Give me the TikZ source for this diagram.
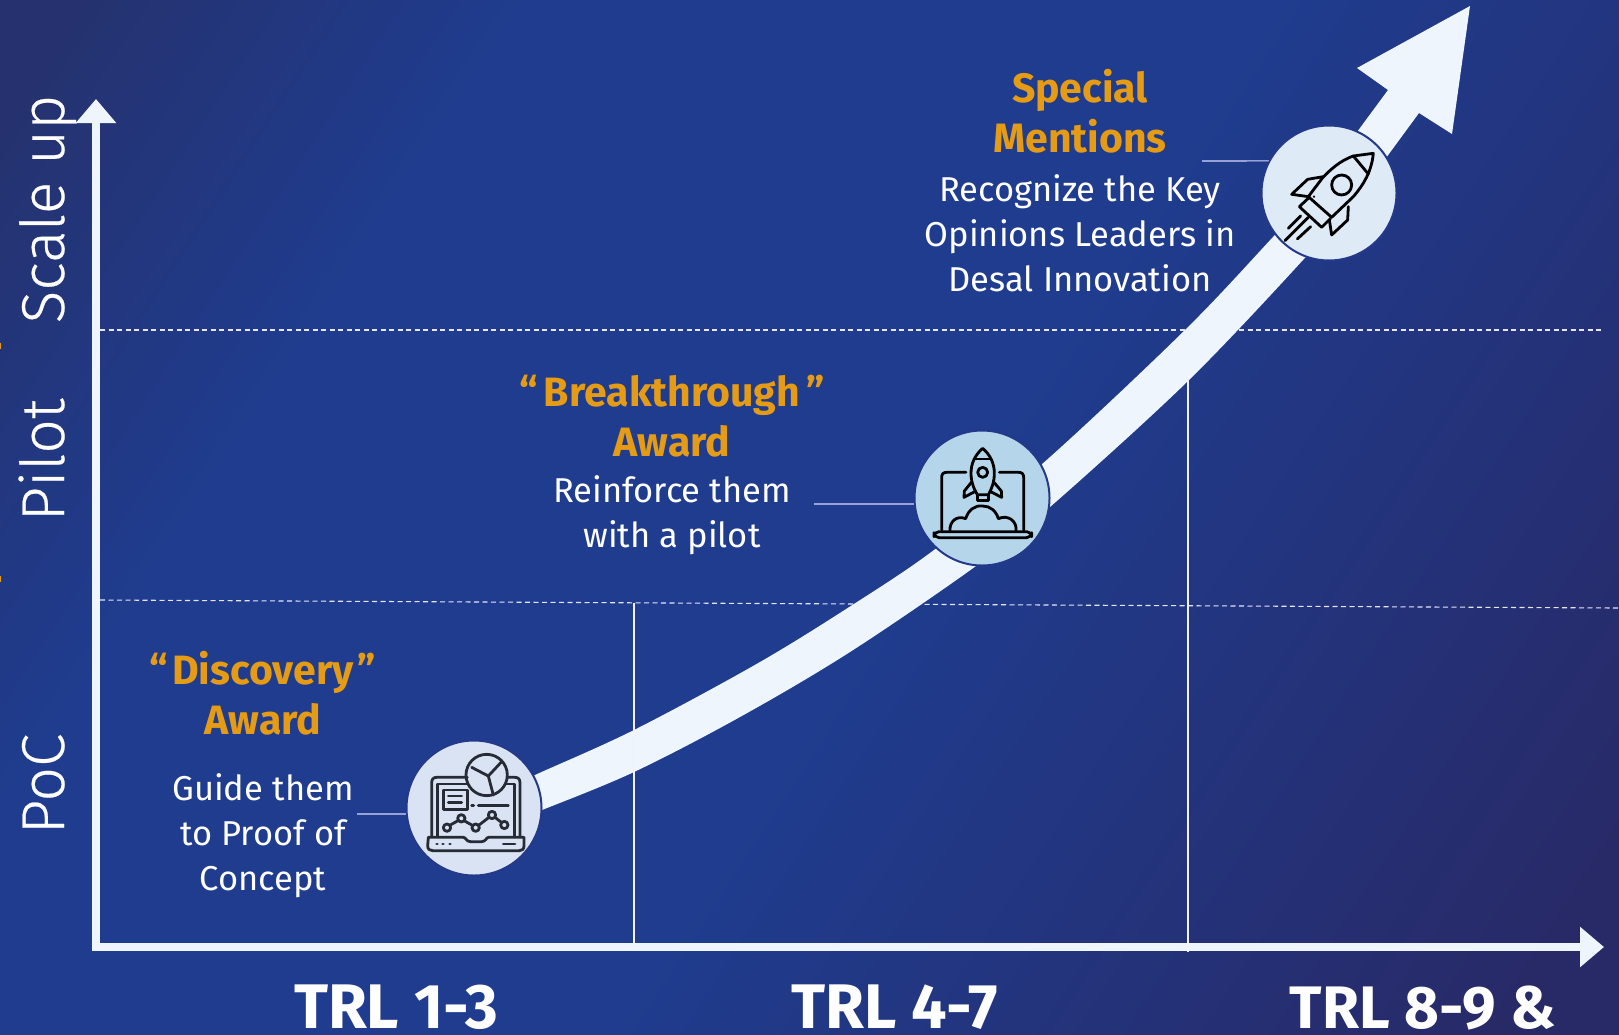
\documentclass[tikz,border=0pt]{standalone}
\usepackage{fontspec}
\setmainfont{Fira Sans}
\newfontfamily\lightface[FakeBold=0.35]{Fira Sans Light}
\usetikzlibrary{arrows.meta}
\definecolor{ink}{HTML}{262B36}
\definecolor{gold}{HTML}{E59C14}
\definecolor{paper}{HTML}{EEF5FC}
\definecolor{bgdark}{HTML}{25326F}
\definecolor{bgblue}{HTML}{1F3C8E}
\definecolor{bgend}{HTML}{282A68}
\definecolor{ringc}{HTML}{24398A}
\definecolor{discA}{HTML}{D9E3F3}
\definecolor{discB}{HTML}{B5D6EA}
\definecolor{discC}{HTML}{DEEAF6}
\pgfdeclareverticalshading{bgshade}{100bp}{color(0bp)=(bgend); color(27bp)=(bgend); color(47bp)=(bgblue); color(64bp)=(bgblue); color(74bp)=(bgdark); color(100bp)=(bgdark)}
\tikzset{
  axisline/.style={draw=paper,line width=8pt,-{Triangle[width=39pt,length=24pt]}},
  dashline/.style={draw=white!90!blue,line width=1.1pt,dash pattern=on 5pt off 3.5pt},
  gridline/.style={draw=white!95!blue,line width=1.1pt},
  leader/.style={draw=white!85!blue,line width=1.2pt},
  disc/.style={circle,draw=ringc,line width=2pt,minimum size=135pt,inner sep=0pt},
  titletext/.style={align=center,text=gold,font=\fontsize{41}{50.5}\selectfont\bfseries},
  bodytext/.style={align=center,text=white,font=\fontsize{34.5}{45}\selectfont},
  sidetext/.style={text=white,rotate=90,anchor=base,font=\fontsize{60.5}{62}\selectfont\lightface},
  trltext/.style={text=white,anchor=base,font=\fontsize{63}{65}\selectfont\bfseries},
  iconline/.style={line width=2.8pt,line cap=round,line join=round},
}
\begin{document}
\begin{tikzpicture}[x=1pt,y=-1pt]
\useasboundingbox (0,0) rectangle (1619,1034);
\begin{scope}
\clip (0,0) rectangle (1619,1034);
\shade[shading=bgshade,shading angle=57] (-200,-300) rectangle (1819,1334);
\end{scope}
% tiny marks at the left edge
\fill[gold] (0,343) rectangle (1,349);
\fill[gold] (0,576) rectangle (1,582);
% grid
\coordinate (d1a) at (100,330); \coordinate (d1b) at (1604,330);
\coordinate (d2a) at (100,600); \coordinate (d2b) at (1619,608);
\coordinate (v1a) at (634,603); \coordinate (v1b) at (634,947);
\coordinate (v2a) at (1188,380); \coordinate (v2b) at (1188,952);
\draw[dashline] (d1a) -- (d1b);
\draw[dashline] (d2a) -- (d2b);
% ribbon
\fill[paper] plot[smooth,tension=0.55] coordinates {(510,788) (535,775) (634,730) (760,662) (857,602) (934,550) (1041,465) (1185,330) (1273,237) (1300,208)}
  -- plot[smooth,tension=0.55] coordinates {(1325,232) (1303,260) (1188,381) (1050,507) (976,566) (850,652) (740,717) (634,772) (542,810) (520,818)} -- cycle;
\fill[paper] (1470,6) -- (1452,134) -- (1419,113) -- (1372,177) -- (1343,151) -- (1388,90) -- (1357,68) -- cycle;
% axes
\coordinate (xstart) at (92,947);
\coordinate (ystart) at (96,951);
\coordinate (ytop) at (96,99);
\coordinate (xend) at (1604,947);
\draw[axisline] (xstart) -- (xend);
\draw[axisline] (ystart) -- (ytop);
\draw[gridline] (v1a) -- (v1b);
\draw[gridline] (v2a) -- (v2b);
% discs
\node[disc,fill=discA] (c1) at (474,808) {};
\node[disc,fill=discB] (c2) at (982,498) {};
\node[disc,fill=discC] (c3) at (1329,193) {};
% leaders
\coordinate (l1) at (357,814);
\coordinate (l2) at (814,504);
\coordinate (l3) at (1202,161);
\draw[leader] (l1) -- (c1.185);
\draw[leader] (l2) -- (c2.185);
\draw[leader] (l3) -- (c3.152);
% icon 1: laptop with chart
\begin{scope}[shift={(380,720)},x=0.3333pt,y=-0.3333pt,iconline,draw=ink]
\draw (155,350) -- (155,188) .. controls (155,178) and (160,172) .. (170,172) -- (262,172);
\draw (385,172) -- (405,172) .. controls (415,172) and (420,178) .. (420,188) -- (420,350);
\draw (172,350) -- (172,192) -- (262,192);
\draw (378,192) -- (403,192) -- (403,350);
\draw (145,352) -- (250,352) .. controls (258,352) and (258,365) .. (272,365) -- (305,365) .. controls (318,365) and (318,352) .. (326,352) -- (432,352) -- (432,378) .. controls (432,388) and (426,392) .. (418,392) -- (158,392) .. controls (150,392) and (143,388) .. (143,378) -- cycle;
\draw (170,372) -- (172,372) (188,372) -- (190,372) (209,372) -- (211,372) (370,372) -- (405,372);
\draw (320,165) circle[radius=62];
\draw (275,142) -- (325,168) -- (365,125) (325,168) -- (340,225);
\draw (190,210) rectangle (262,268);
\draw (205,228) -- (245,228) (205,248) -- (245,248);
\draw (275,257) -- (281,257) (295,257) -- (385,257);
\draw (201,323) circle[radius=11] (244,295) circle[radius=11] (287,323) circle[radius=11] (336,285) circle[radius=11] (373,315) circle[radius=11];
\draw (209,316) -- (236,301) (252,302) -- (279,317) (296,316) -- (327,292) (345,292) -- (364,307);
\end{scope}
% icon 2: rocket leaving a laptop
\begin{scope}[shift={(900,420)},x=0.3333pt,y=-0.3333pt,iconline,draw=black]
\draw (198,157) -- (140,157) .. controls (130,157) and (125,162) .. (125,172) -- (125,330);
\draw (298,157) -- (356,157) .. controls (366,157) and (371,162) .. (371,172) -- (371,330);
\draw[rounded corners=5pt] (102,335) rectangle (395,353);
\draw (182,336) -- (348,336);
\draw (150,332) .. controls (148,305) and (170,285) .. (197,296) .. controls (205,270) and (225,255) .. (248,258) .. controls (270,258) and (288,272) .. (295,296) .. controls (325,282) and (352,305) .. (348,332);
\draw (248,85) .. controls (225,105) and (213,130) .. (213,160) .. controls (213,185) and (222,208) .. (232,224) -- (265,224) .. controls (275,208) and (283,185) .. (283,160) .. controls (283,130) and (271,105) .. (248,85) -- cycle;
\draw (225,117) -- (271,117);
\draw (248,157) circle[radius=15];
\draw (215,186) -- (193,213) -- (192,232) -- (226,214);
\draw (281,186) -- (304,213) -- (305,232) -- (270,214);
\draw (232,226) -- (232,241) -- (265,241) -- (265,226);
\end{scope}
% icon 3: flying rocket
\begin{scope}[shift={(1240,0)},x=0.3333pt,y=-0.3333pt,iconline,draw=black]
\draw (400,460) -- (340,468) .. controls (300,482) and (270,510) .. (248,533) -- (205,590) -- (275,652) -- (340,590) .. controls (370,555) and (395,515) .. (400,460) -- cycle;
\draw (340,468) -- (385,522);
\draw (305,555) circle[radius=30];
\draw (250,530) -- (203,538) -- (155,583) -- (205,590);
\draw (325,620) -- (323,660) -- (275,705) -- (268,660);
\draw (178,620) -- (208,592) (178,620) -- (245,682) -- (272,655);
\draw (145,685) -- (182,648) (135,722) -- (205,652) (172,717) -- (212,680);
\fill[black] (222,590) circle[radius=3.5];
\end{scope}
% texts
\node[titletext] (t3) at (1080,111) {Special\\Mentions};
\node[bodytext] (b3) at (1080,233) {Recognize the Key\\Opinions Leaders in\\Desal Innovation};
\node[titletext] (t2) at (672,416) {“\kern6pt Breakthrough\kern6pt”\\Award};
\node[bodytext] (b2) at (672,515) {Reinforce them\\with a pilot};
\node[titletext] (t1) at (263,693) {“\kern4pt Discovery\kern4pt”\\Award};
\node[bodytext] (b1) at (263,836) {Guide them\\to Proof of\\Concept};
\node[sidetext] (s3) at (64,209) {Scale up};
\node[sidetext] (s2) at (64,460) {Pilot};
\node[sidetext] (s1) at (64,784) {PoC};
\node[trltext] (x1) at (396,1028) {TRL 1-3};
\node[trltext] (x2) at (895,1028) {TRL 4-7};
\node[trltext,font=\fontsize{60}{62}\selectfont\bfseries] (x3) at (1423,1028) {TRL 8-9 \&};
\end{tikzpicture}
\end{document}
